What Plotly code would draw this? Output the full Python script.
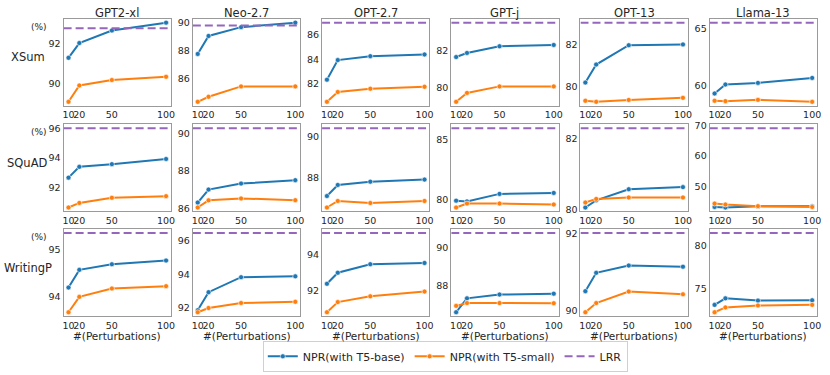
import plotly.graph_objects as go

models = ["GPT2-xl", "Neo-2.7", "OPT-2.7", "GPT-j", "OPT-13", "Llama-13"]
datasets = ["XSum", "SQuAD", "WritingP"]
n_perturbations = [10, 20, 50, 100]

# NPR with T5-base, one list per model (GPT2-xl ... Llama-13)
xsum_t5_base = [
    [91.30, 92.03, 92.65, 93.04],
    [87.77, 89.05, 89.68, 90.00],
    [82.34, 83.94, 84.26, 84.40],
    [81.65, 81.87, 82.23, 82.30],
    [80.20, 81.06, 81.98, 82.02],
    [59.36, 60.14, 60.28, 60.71],
]
xsum_t5_small = [
    [89.12, 89.93, 90.20, 90.36],
    [84.36, 84.72, 85.46, 85.46],
    [80.53, 81.33, 81.60, 81.76],
    [79.24, 79.72, 80.07, 80.07],
    [79.33, 79.28, 79.37, 79.47],
    [58.73, 58.70, 58.81, 58.64],
]
xsum_lrr = [92.76, 89.80, 87.00, 83.50, 83.06, 65.50]

squad_t5_base = [
    [92.67, 93.40, 93.58, 93.93],
    [86.33, 87.02, 87.34, 87.52],
    [87.10, 87.64, 87.80, 87.90],
    [79.90, 79.84, 80.46, 80.54],
    [80.07, 80.27, 80.58, 80.64],
    [43.20, 43.00, 43.45, 43.45],
]
squad_t5_small = [
    [90.65, 90.96, 91.31, 91.42],
    [86.07, 86.45, 86.55, 86.46],
    [86.54, 86.86, 86.76, 86.86],
    [79.33, 79.66, 79.66, 79.58],
    [80.21, 80.31, 80.35, 80.35],
    [44.30, 44.00, 43.45, 43.20],
]
squad_lrr = [96.00, 90.27, 90.40, 85.90, 82.28, 69.20]

writingp_t5_base = [
    [94.19, 94.57, 94.69, 94.77],
    [91.87, 92.94, 93.83, 93.88],
    [92.40, 93.01, 93.48, 93.55],
    [86.58, 87.32, 87.52, 87.57],
    [90.50, 90.98, 91.17, 91.14],
    [73.12, 73.87, 73.61, 73.65],
]
writingp_t5_small = [
    [93.66, 93.99, 94.17, 94.22],
    [91.75, 92.00, 92.30, 92.37],
    [90.83, 91.39, 91.71, 91.97],
    [86.92, 87.07, 87.07, 87.06],
    [89.95, 90.19, 90.49, 90.42],
    [72.27, 72.83, 73.05, 73.12],
]
writingp_lrr = [95.36, 96.45, 95.20, 90.80, 92.02, 81.40]

# y tick spacing per panel
ytick_step = [
    [2, 2, 2, 2, 2, 5],
    [2, 2, 2, 5, 2, 10],
    [1, 2, 2, 2, 2, 5],
]

base_rows = [xsum_t5_base, squad_t5_base, writingp_t5_base]
small_rows = [xsum_t5_small, squad_t5_small, writingp_t5_small]
lrr_rows = [xsum_lrr, squad_lrr, writingp_lrr]

W, H = 830, 375
col_left = [63, 193, 323, 453, 583, 713]
col_w = 108
row_top = [15, 123, 230]
row_h = 89

BLUE = "#1f77b4"
ORANGE = "#ff7f0e"
PURPLE = "#9467bd"
FONT = "DejaVu Sans"
TXT = "#262626"

fig = go.Figure()
annotations = []

xpad = 0.05 * (max(n_perturbations) - min(n_perturbations))
xrange = [min(n_perturbations) - xpad, max(n_perturbations) + xpad]

for r in range(3):
    for c in range(6):
        k = r * 6 + c + 1
        xa = "x" if k == 1 else f"x{k}"
        ya = "y" if k == 1 else f"y{k}"
        base = base_rows[r][c]
        small = small_rows[r][c]
        lrr = lrr_rows[r][c]
        first = k == 1

        fig.add_trace(go.Scatter(
            x=n_perturbations, y=base, mode="lines+markers",
            name="NPR(with T5-base)", legendgroup="base", showlegend=first,
            line=dict(color=BLUE, width=2),
            marker=dict(size=5, color=BLUE, line=dict(color="white", width=0.6)),
            xaxis=xa, yaxis=ya,
        ))
        fig.add_trace(go.Scatter(
            x=n_perturbations, y=small, mode="lines+markers",
            name="NPR(with T5-small)", legendgroup="small", showlegend=first,
            line=dict(color=ORANGE, width=2),
            marker=dict(size=5, color=ORANGE, line=dict(color="white", width=0.6)),
            xaxis=xa, yaxis=ya,
        ))
        fig.add_trace(go.Scatter(
            x=xrange, y=[lrr, lrr], mode="lines",
            name="LRR", legendgroup="lrr", showlegend=first,
            line=dict(color=PURPLE, width=2, dash="8px,4px"),
            xaxis=xa, yaxis=ya,
        ))

        vals = base + small + [lrr]
        lo, hi = min(vals), max(vals)
        pad = 0.05 * (hi - lo)

        x0 = col_left[c] / W
        x1 = (col_left[c] + col_w) / W
        y1 = 1 - row_top[r] / H
        y0 = 1 - (row_top[r] + row_h) / H
        axis_common = dict(
            showline=True, mirror=True, linecolor="#9a9a9a", linewidth=1.2,
            showgrid=False, zeroline=False, ticks="",
            tickfont=dict(family=FONT, size=9.5, color=TXT),
        )
        fig.layout[f"xaxis{'' if k == 1 else k}"] = dict(
            domain=[x0, x1], anchor=ya, range=xrange, tickangle=0,
            tickvals=n_perturbations, ticktext=[str(v) for v in n_perturbations],
            **axis_common,
        )
        fig.layout[f"yaxis{'' if k == 1 else k}"] = dict(
            domain=[y0, y1], anchor=xa, range=[lo - pad, hi + pad],
            dtick=ytick_step[r][c], tick0=0,
            **axis_common,
        )

        if r == 0:
            annotations.append(dict(
                text=models[c], x=(x0 + x1) / 2, y=1 - 9.5 / H,
                xref="paper", yref="paper", showarrow=False,
                xanchor="center", yanchor="middle",
                font=dict(family=FONT, size=11.5, color=TXT),
            ))
        if r == 2:
            annotations.append(dict(
                text="#(Perturbations)", x=(x0 + x1) / 2, y=1 - 339 / H,
                xref="paper", yref="paper", showarrow=False,
                xanchor="center", yanchor="middle",
                font=dict(family=FONT, size=10.5, color=TXT),
            ))
    # row label and unit
    annotations.append(dict(
        text=datasets[r], x=27 / W, y=1 - (row_top[r] + row_h / 2 - 5) / H,
        xref="paper", yref="paper", showarrow=False,
        xanchor="center", yanchor="middle",
        font=dict(family=FONT, size=11.5, color=TXT),
    ))
    annotations.append(dict(
        text="(%)", x=48 / W, y=1 - (row_top[r] + 8) / H,
        xref="paper", yref="paper", showarrow=False,
        xanchor="right", yanchor="middle",
        font=dict(family=FONT, size=9, color=TXT),
    ))

fig.update_layout(
    width=W, height=H,
    margin=dict(l=0, r=0, t=0, b=0),
    paper_bgcolor="white", plot_bgcolor="white",
    annotations=annotations,
    showlegend=True,
    legend=dict(
        orientation="h", x=447 / W, y=1 - 360 / H,
        xanchor="center", yanchor="middle",
        bordercolor="#d0d0d0", borderwidth=1, bgcolor="white",
        font=dict(family=FONT, size=11, color=TXT),
        itemwidth=30, tracegroupgap=0,
    ),
)

# page has a default body margin; remove it so the figure fills the window
fig.write_html(
    "out.html",
    config={"displayModeBar": False},
    post_script="document.body.style.margin='0';",
)
